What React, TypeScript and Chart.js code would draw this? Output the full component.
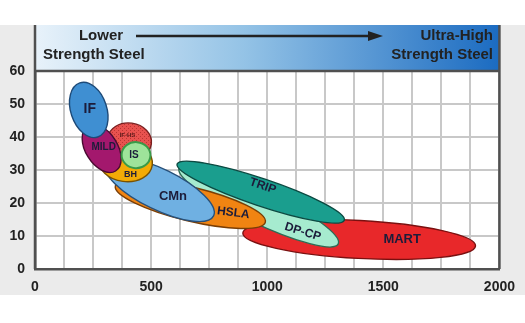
import React, { useEffect, useRef } from 'react';
import { Chart, registerables } from 'chart.js';

Chart.register(...registerables);

// Steel grade families, listed in drawing order (back to front)
const steelGrades = ['MART', 'DP-CP', 'TRIP', 'HSLA', 'CMn', 'BH', 'IF-HS', 'MILD', 'IF', 'IS'];
// Major axis of each band: start / end (tensile strength MPa, total elongation %)
const startStrength = [895, 621, 612, 346, 303, 274, 313, 227, 193, 373];
const startElongation = [10.9, 30.6, 31.8, 25.2, 32.1, 33.6, 39.7, 43.3, 56.4, 34.8];
const endStrength = [1897, 1306, 1332, 992, 769, 505, 501, 347, 270, 497];
const endElongation = [7.0, 7.6, 14.8, 14.2, 16.1, 31.5, 37.9, 29.7, 40.0, 34.2];
// Band thickness, in elongation %
const bandWidth = [11.5, 10.3, 8.3, 10.3, 12.3, 12.1, 10.9, 9.7, 10.9, 7.9];

const xTickLabels = [0, 500, 1000, 1500, 2000];
const yTickLabels = [0, 10, 20, 30, 40, 50, 60];
const headerLeft = ['Lower', 'Strength Steel'];
const headerRight = ['Ultra-High', 'Strength Steel'];

// styles per grade
const gradeStyle: Record<string, { fill: string; stroke: string; font: number; dx: number; dy: number; rot: number }> = {
  MART: { fill: '#e8282a', stroke: '#7a1010', font: 13, dx: 43, dy: 0, rot: 0 },
  'DP-CP': { fill: '#a6ebcf', stroke: '#2f6b55', font: 12, dx: 44, dy: 26, rot: 0.3 },
  TRIP: { fill: '#1a9e8e', stroke: '#0c4a42', font: 12, dx: 2, dy: -6, rot: 0.33 },
  HSLA: { fill: '#f08412', stroke: '#7a3e05', font: 12, dx: 43, dy: 9, rot: 0.12 },
  CMn: { fill: '#6fb0e2', stroke: '#27507a', font: 13, dx: 13.5, dy: 6.5, rot: 0 },
  BH: { fill: '#f2ab06', stroke: '#7a5200', font: 9, dx: 5, dy: 13, rot: 0 },
  'IF-HS': { fill: '#e8524f', stroke: '#7a2020', font: 6, dx: -2, dy: -6, rot: 0 },
  MILD: { fill: '#a3186d', stroke: '#4a0a30', font: 10, dx: 2, dy: -1, rot: 0 },
  IF: { fill: '#3f8fd2', stroke: '#1d4a78', font: 14, dx: 1, dy: -1, rot: 0 },
  IS: { fill: '#9ee39a', stroke: '#3a9a48', font: 10, dx: -2, dy: 0, rot: 0 },
};

function makeDots(ctx: CanvasRenderingContext2D, base: string) {
  const c = document.createElement('canvas');
  c.width = 4;
  c.height = 4;
  const g = c.getContext('2d')!;
  g.fillStyle = base;
  g.fillRect(0, 0, 4, 4);
  g.fillStyle = 'rgba(150,30,30,0.55)';
  g.fillRect(0, 0, 1, 1);
  g.fillRect(2, 2, 1, 1);
  return ctx.createPattern(c, 'repeat') || base;
}

const backgroundPlugin = {
  id: 'bg',
  beforeDraw(chart: any) {
    const { ctx, chartArea: a } = chart;
    ctx.save();
    ctx.fillStyle = '#ffffff';
    ctx.fillRect(0, 0, chart.width, chart.height);
    ctx.fillStyle = '#ebebeb';
    ctx.fillRect(0, 25, chart.width, 270);
    ctx.fillStyle = '#ffffff';
    ctx.fillRect(a.left, a.top, a.right - a.left, a.bottom - a.top);
    ctx.restore();
  },
};

const ellipsePlugin = {
  id: 'ellipses',
  afterDatasetsDraw(chart: any) {
    const { ctx, chartArea: a } = chart;
    const xs = chart.scales.x;
    const ys = chart.scales.y;
    ctx.save();
    ctx.beginPath();
    ctx.rect(a.left, a.top, a.right - a.left, a.bottom - a.top);
    ctx.clip();
    const centers: { cx: number; cy: number }[] = [];
    steelGrades.forEach((g, i) => {
      const st = gradeStyle[g];
      const ax = xs.getPixelForValue(startStrength[i]);
      const ay = ys.getPixelForValue(startElongation[i]);
      const bx = xs.getPixelForValue(endStrength[i]);
      const by = ys.getPixelForValue(endElongation[i]);
      const cx = (ax + bx) / 2;
      const cy = (ay + by) / 2;
      const ra = Math.hypot(bx - ax, by - ay) / 2;
      const rb = Math.abs(ys.getPixelForValue(0) - ys.getPixelForValue(bandWidth[i])) / 2;
      const ang = Math.atan2(by - ay, bx - ax);
      centers.push({ cx, cy });
      ctx.beginPath();
      ctx.ellipse(cx, cy, ra, rb, ang, 0, Math.PI * 2);
      ctx.fillStyle = g === 'IF-HS' ? makeDots(ctx, st.fill) : st.fill;
      ctx.fill();
      ctx.lineWidth = g === 'IS' ? 2 : 1.4;
      ctx.strokeStyle = st.stroke;
      ctx.stroke();
    });
    steelGrades.forEach((g, i) => {
      const st = gradeStyle[g];
      const { cx, cy } = centers[i];
      ctx.save();
      ctx.translate(cx + st.dx, cy + st.dy);
      ctx.rotate(st.rot);
      ctx.font = `bold ${st.font}px "Liberation Sans", Arial, sans-serif`;
      ctx.textAlign = 'center';
      ctx.textBaseline = 'middle';
      ctx.fillStyle = g === 'IF-HS' ? '#5a1a1a' : '#1c1c3a';
      ctx.fillText(g, 0, 0);
      ctx.restore();
    });
    ctx.restore();

    // header band
    ctx.save();
    const top = 25;
    const hb = a.top;
    const grad = ctx.createLinearGradient(a.left, 0, a.right, 0);
    grad.addColorStop(0, '#e8f2fa');
    grad.addColorStop(0.45, '#94c3e6');
    grad.addColorStop(1, '#1b6bc1');
    ctx.fillStyle = grad;
    ctx.fillRect(a.left, top, a.right - a.left, hb - top);
    ctx.strokeStyle = '#505050';
    ctx.lineWidth = 2.5;
    ctx.beginPath();
    ctx.moveTo(a.left, top);
    ctx.lineTo(a.left, a.bottom);
    ctx.moveTo(a.right, top);
    ctx.lineTo(a.right, a.bottom);
    ctx.moveTo(a.left, a.top);
    ctx.lineTo(a.right, a.top);
    ctx.stroke();

    ctx.fillStyle = '#222222';
    ctx.font = 'bold 15px "Liberation Sans", Arial, sans-serif';
    ctx.textBaseline = 'middle';
    ctx.textAlign = 'center';
    ctx.fillText(headerLeft[0], 101, 36);
    ctx.textAlign = 'left';
    ctx.fillText(headerLeft[1], 43, 55);
    ctx.textAlign = 'right';
    ctx.fillText(headerRight[0], 493, 36);
    ctx.fillText(headerRight[1], 493, 55);
    // arrow
    ctx.strokeStyle = '#222222';
    ctx.lineWidth = 2.5;
    ctx.beginPath();
    ctx.moveTo(136, 36);
    ctx.lineTo(372, 36);
    ctx.stroke();
    ctx.beginPath();
    ctx.moveTo(383, 36);
    ctx.lineTo(368, 31);
    ctx.lineTo(368, 41);
    ctx.closePath();
    ctx.fill();
    ctx.restore();
  },
};

export default function App() {
  const ref = useRef<HTMLCanvasElement>(null);
  useEffect(() => {
    if (!ref.current) return;
    const chart = new Chart(ref.current, {
      type: 'scatter',
      data: {
        datasets: steelGrades.map((g, i) => ({
          label: g,
          data: [
            {
              x: (startStrength[i] + endStrength[i]) / 2,
              y: (startElongation[i] + endElongation[i]) / 2,
            },
          ],
          pointRadius: 0,
        })),
      },
      options: {
        responsive: false,
        animation: false,
        devicePixelRatio: 1,
        layout: { padding: { top: 71, right: 22, left: 0, bottom: 0 } },
        plugins: { legend: { display: false }, tooltip: { enabled: false } },
        scales: {
          x: {
            type: 'linear',
            min: 0,
            max: 2000,
            afterFit: (s: any) => {
              s.height = 54;
            },
            ticks: {
              stepSize: 125,
              autoSkip: false,
              maxRotation: 0,
              padding: 10,
              color: '#222',
              font: { family: '"Liberation Sans", Arial, sans-serif', size: 14, weight: 'bold' },
              callback: (v: any) => (xTickLabels.includes(Number(v)) ? String(v) : ''),
            },
            grid: { color: '#c8c8c8', lineWidth: 2, drawTicks: false },
            border: { display: true, color: '#505050', width: 2.5 },
          },
          y: {
            type: 'linear',
            min: 0,
            max: 60,
            afterFit: (s: any) => {
              s.width = 35;
            },
            ticks: {
              stepSize: 10,
              padding: 10,
              color: '#222',
              font: { family: '"Liberation Sans", Arial, sans-serif', size: 14, weight: 'bold' },
              callback: (v: any) => (yTickLabels.includes(Number(v)) ? String(v) : ''),
            },
            grid: { color: '#c8c8c8', lineWidth: 2, drawTicks: false },
            border: { display: true, color: '#505050', width: 2.5 },
          },
        },
      },
      plugins: [backgroundPlugin, ellipsePlugin],
    });
    return () => chart.destroy();
  }, []);
  return (
    <div style={{ position: 'fixed', left: 0, top: 0, width: 525, height: 323 }}>
      <canvas ref={ref} width={525} height={323} style={{ display: 'block' }} />
    </div>
  );
}
